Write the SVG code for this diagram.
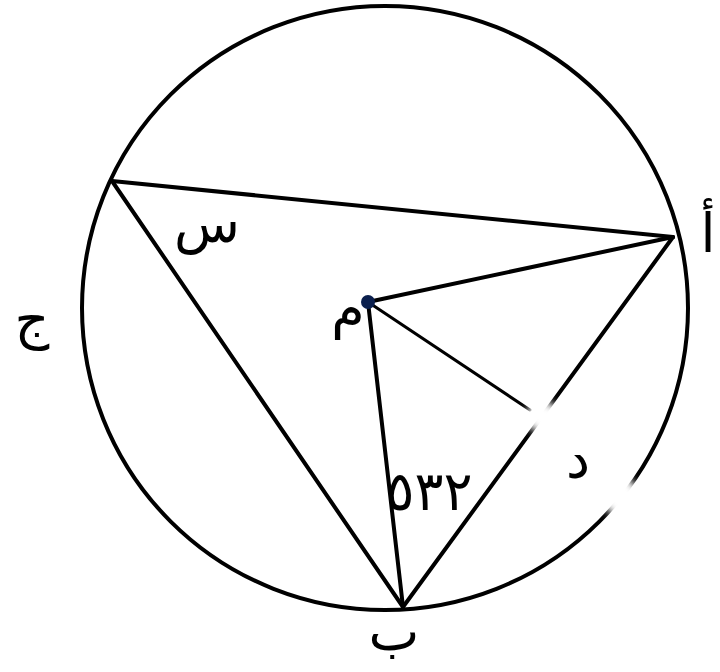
<svg xmlns="http://www.w3.org/2000/svg" width="720" height="672" viewBox="0 0 720 672">
<defs>
<style>
.ln{stroke:#000;stroke-width:4;stroke-linecap:round;fill:none}
.thin{stroke:#000;stroke-width:3;stroke-linecap:round;fill:none}
.lbl{font-family:"DejaVu Sans",sans-serif;font-size:54px;fill:#000;text-anchor:middle}
</style>
<filter id="blur" x="-50%" y="-50%" width="200%" height="200%"><feGaussianBlur stdDeviation="4"/></filter>
</defs>
<rect width="720" height="672" fill="#fff"/>
<g id="circle"><ellipse cx="385" cy="308" rx="303" ry="302" class="ln" stroke-width="3.5"/></g>
<g id="connectors">
<line x1="112" y1="181" x2="673" y2="237" class="ln"/>
<line x1="112" y1="181" x2="403" y2="607" class="ln"/>
<line x1="368" y1="302" x2="673" y2="237" class="ln"/>
<line x1="368" y1="302" x2="403" y2="607" class="ln"/>
<line x1="368" y1="302" x2="530" y2="410" class="thin"/>
<line x1="673" y1="237" x2="403" y2="607" class="ln"/>
</g>
<g id="erasures" filter="url(#blur)" fill="#fff">
<ellipse cx="543" cy="417" rx="17" ry="16"/>
<ellipse cx="621" cy="497" rx="18" ry="20"/>
</g>
<g id="node-m"><circle cx="368" cy="302" r="7" fill="#0b1f4d"/><text class="lbl" x="348" y="327">م</text></g>
<g id="node-a"><text class="lbl" x="708" y="252">أ</text></g>
<g id="node-b"><text class="lbl" x="394" y="650">ب</text></g>
<g id="node-j"><text class="lbl" x="32" y="338">ج</text></g>
<g id="node-s"><text class="lbl" x="207" y="242">س</text></g>
<g id="node-d"><text class="lbl" x="578" y="478">د</text></g>
<g id="angle"><text class="lbl" x="429" y="510" font-size="46">٥٣٢</text></g>
</svg>
